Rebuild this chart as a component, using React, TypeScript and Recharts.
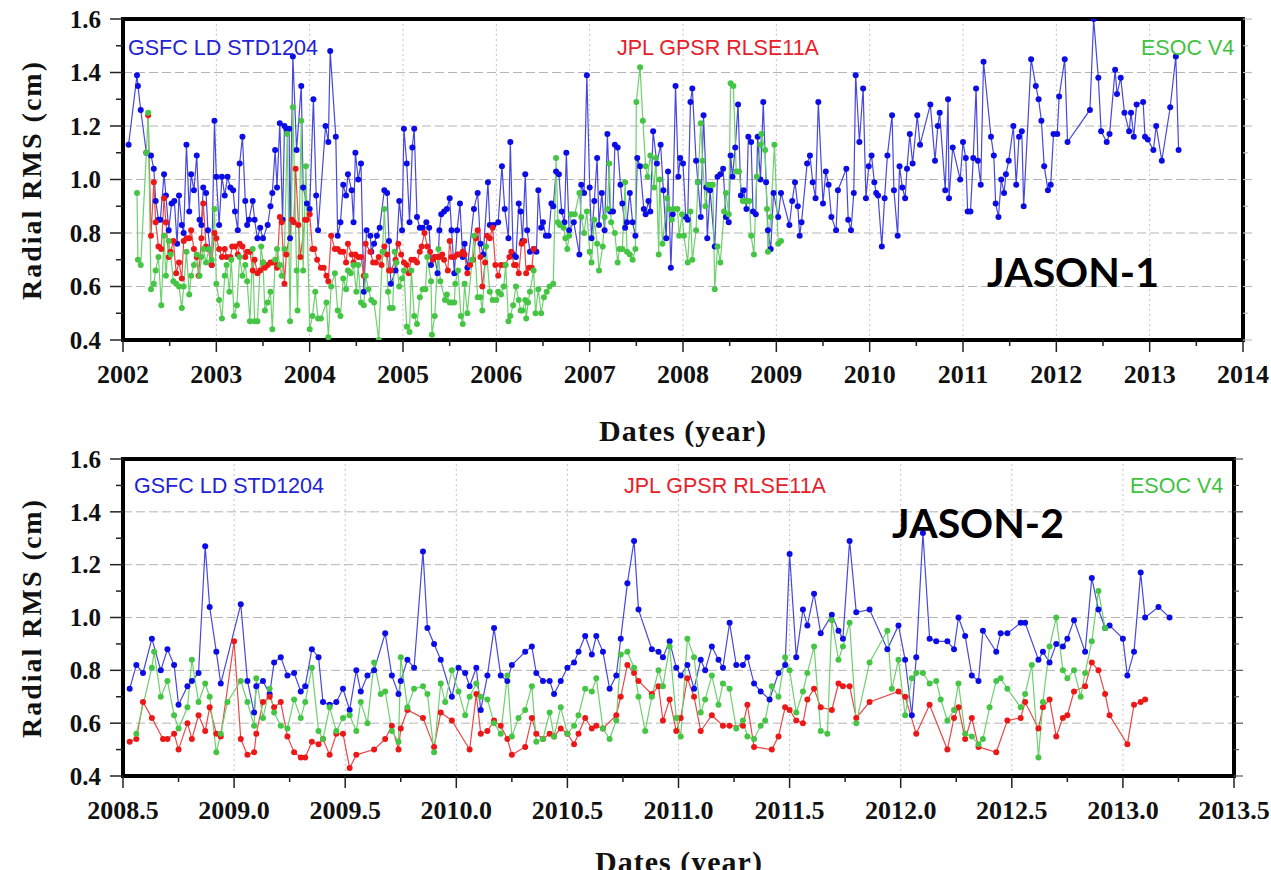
import React from 'react';
import { LineChart, Line, XAxis, YAxis, CartesianGrid, ReferenceArea } from 'recharts';

type Pt = [number, number];

// ---------- JASON-1 (top panel), [year, radial RMS cm] ----------
const j1Gsfc: Pt[] = [
  [2002.06,1.13],[2002.15,1.39],[2002.16,1.35],[2002.19,1.26],[2002.25,1.10],[2002.30,1.09],[2002.33,1.04],[2002.35,0.92],[2002.38,0.85],[2002.40,0.85],
  [2002.44,1.02],[2002.46,0.94],[2002.49,0.81],[2002.52,0.91],[2002.55,0.92],[2002.58,0.76],[2002.60,0.94],[2002.63,0.83],[2002.65,0.80],[2002.68,1.13],
  [2002.71,0.88],[2002.73,1.02],[2002.76,0.96],[2002.79,1.09],[2002.82,0.85],[2002.84,0.83],[2002.86,0.97],[2002.89,0.95],[2002.91,0.81],[2002.95,0.68],
  [2002.98,1.22],[2003.00,1.01],[2003.03,0.83],[2003.06,1.01],[2003.09,0.94],[2003.12,1.01],[2003.15,0.97],[2003.18,0.96],[2003.20,0.88],[2003.23,0.81],
  [2003.25,1.06],[2003.28,1.16],[2003.31,0.92],[2003.33,0.83],[2003.35,0.85],[2003.39,0.92],[2003.41,0.85],[2003.44,0.78],[2003.47,0.82],[2003.50,0.78],
  [2003.55,0.83],[2003.58,0.90],[2003.60,0.95],[2003.63,1.11],[2003.65,0.97],[2003.68,1.21],[2003.71,0.85],[2003.73,1.20],[2003.75,1.19],[2003.78,1.19],
  [2003.79,0.78],[2003.82,1.46],[2003.86,1.11],[2003.91,1.35],[2003.93,0.97],[2003.97,0.91],[2004.00,0.89],[2004.04,1.30],[2004.07,0.94],[2004.09,0.81],
  [2004.17,1.20],[2004.20,1.14],[2004.22,1.48],[2004.28,1.16],[2004.30,0.79],[2004.33,0.84],[2004.36,0.98],[2004.39,0.94],[2004.41,1.02],[2004.45,0.96],
  [2004.47,0.84],[2004.49,1.10],[2004.52,1.00],[2004.55,1.06],[2004.58,0.58],[2004.61,0.81],[2004.65,0.79],[2004.66,0.73],[2004.69,0.76],[2004.72,0.79],
  [2004.75,0.82],[2004.80,0.96],[2004.83,0.95],[2004.85,0.77],[2004.87,0.61],[2004.92,0.66],[2004.96,0.92],[2004.99,0.81],[2005.01,1.19],[2005.04,1.06],
  [2005.07,0.84],[2005.10,1.12],[2005.12,1.19],[2005.15,0.86],[2005.18,0.82],[2005.21,0.82],[2005.25,0.84],[2005.28,0.82],[2005.30,0.68],[2005.34,0.71],
  [2005.37,0.65],[2005.39,0.81],[2005.41,0.87],[2005.44,0.88],[2005.47,0.89],[2005.50,0.93],[2005.52,0.81],[2005.55,0.65],[2005.58,0.81],[2005.61,0.91],
  [2005.64,0.71],[2005.66,0.76],[2005.69,0.67],[2005.76,0.89],[2005.80,0.95],[2005.83,0.76],[2005.86,0.72],[2005.91,0.99],[2005.93,0.83],[2005.97,0.83],
  [2006.02,0.84],[2006.06,1.05],[2006.09,0.89],[2006.13,0.78],[2006.15,1.14],[2006.18,0.72],[2006.21,0.71],[2006.24,0.91],[2006.26,0.88],[2006.28,0.77],
  [2006.31,1.02],[2006.33,0.81],[2006.36,0.73],[2006.40,0.74],[2006.43,0.73],[2006.45,0.96],[2006.48,0.82],[2006.50,0.84],[2006.53,0.79],[2006.56,0.79],
  [2006.59,0.91],[2006.61,0.90],[2006.64,1.03],[2006.67,1.02],[2006.70,0.88],[2006.73,0.84],[2006.75,1.10],[2006.78,0.81],[2006.83,0.84],[2006.89,0.72],
  [2006.91,0.98],[2006.94,0.95],[2006.97,1.39],[2007.00,0.97],[2007.02,0.78],[2007.05,0.92],[2007.08,1.08],[2007.10,0.83],[2007.13,0.95],[2007.16,0.81],
  [2007.19,1.17],[2007.22,0.88],[2007.25,0.88],[2007.27,1.13],[2007.30,1.12],[2007.33,0.98],[2007.35,0.91],[2007.38,0.82],[2007.40,0.84],[2007.43,0.95],
  [2007.46,0.84],[2007.49,0.79],[2007.51,1.08],[2007.54,1.05],[2007.58,0.89],[2007.60,0.87],[2007.63,0.92],[2007.65,0.88],[2007.68,1.18],[2007.72,1.06],
  [2007.76,1.13],[2007.79,0.96],[2007.82,0.78],[2007.84,1.03],[2007.87,0.67],[2007.89,0.87],[2007.92,1.35],[2007.95,1.01],[2007.97,1.08],[2008.00,1.06],
  [2008.03,0.86],[2008.05,0.85],[2008.08,1.29],[2008.10,1.34],[2008.14,1.07],[2008.16,0.99],[2008.19,0.86],[2008.22,1.24],[2008.25,0.97],[2008.26,0.78],
  [2008.29,0.96],[2008.34,0.75],[2008.37,1.01],[2008.40,1.02],[2008.43,1.04],[2008.46,0.86],[2008.49,0.84],[2008.51,1.09],[2008.53,1.01],[2008.56,1.12],
  [2008.59,1.28],[2008.62,0.94],[2008.65,0.96],[2008.68,0.89],[2008.70,1.16],[2008.73,1.14],[2008.75,0.88],[2008.78,0.87],[2008.80,1.16],[2008.83,1.00],
  [2008.86,1.29],[2008.89,0.99],[2008.91,0.81],[2008.94,0.74],[2008.97,0.95],[2009.02,0.86],[2009.05,0.95],[2009.14,0.83],[2009.17,0.92],[2009.20,0.99],
  [2009.23,0.90],[2009.25,0.79],[2009.27,0.84],[2009.33,1.06],[2009.36,1.09],[2009.39,0.99],[2009.42,0.93],[2009.45,1.29],[2009.50,0.91],[2009.53,1.03],
  [2009.56,0.98],[2009.59,0.86],[2009.64,0.81],[2009.66,0.96],[2009.75,1.04],[2009.77,0.85],[2009.80,0.81],[2009.83,0.95],[2009.85,1.39],[2009.89,1.14],
  [2009.93,1.34],[2009.96,0.93],[2009.99,1.05],[2010.02,1.09],[2010.05,0.99],[2010.07,0.95],[2010.09,0.94],[2010.13,0.75],[2010.16,0.93],[2010.19,1.09],
  [2010.24,1.24],[2010.26,0.96],[2010.30,0.79],[2010.32,1.05],[2010.35,0.97],[2010.38,0.93],[2010.40,1.04],[2010.43,1.17],[2010.46,1.06],[2010.51,1.24],
  [2010.54,1.13],[2010.65,1.28],[2010.70,1.07],[2010.73,1.20],[2010.75,1.25],[2010.81,0.96],[2010.84,1.30],[2010.85,0.93],[2010.89,1.12],[2010.97,1.00],
  [2011.00,1.14],[2011.03,1.08],[2011.05,0.88],[2011.08,0.88],[2011.11,1.08],[2011.14,1.34],[2011.16,1.07],[2011.19,0.98],[2011.22,1.44],[2011.30,1.16],
  [2011.33,1.09],[2011.35,0.91],[2011.38,0.86],[2011.41,1.00],[2011.44,0.95],[2011.46,1.02],[2011.49,1.07],[2011.54,1.20],[2011.57,0.98],[2011.60,1.16],
  [2011.63,1.18],[2011.65,0.90],[2011.73,1.45],[2011.78,1.35],[2011.81,1.30],[2011.84,1.22],[2011.87,1.05],[2011.91,0.96],[2011.94,0.98],[2011.97,1.17],
  [2012.01,1.17],[2012.03,1.31],[2012.09,1.45],[2012.12,1.14],[2012.36,1.26],[2012.40,1.60],[2012.45,1.38],[2012.48,1.18],[2012.54,1.14],[2012.57,1.17],
  [2012.63,1.41],[2012.65,1.32],[2012.69,1.38],[2012.73,1.25],[2012.78,1.18],[2012.80,1.25],[2012.83,1.16],[2012.86,1.28],[2012.93,1.29],[2012.95,1.16],
  [2012.98,1.15],[2013.04,1.11],[2013.07,1.20],[2013.13,1.07],[2013.22,1.27],[2013.28,1.46],[2013.31,1.11],
];

const j1Jpl: Pt[] = [
  [2002.27,1.24],[2002.30,0.79],[2002.33,0.99],[2002.35,0.84],[2002.38,0.75],[2002.41,0.74],[2002.44,0.93],[2002.46,0.84],[2002.49,0.71],[2002.51,0.73],
  [2002.54,0.77],[2002.57,0.65],[2002.60,0.69],[2002.63,0.63],[2002.65,0.77],[2002.68,0.78],[2002.71,0.78],[2002.73,0.81],[2002.76,0.74],[2002.79,0.71],
  [2002.81,0.64],[2002.84,0.78],[2002.86,0.91],[2002.89,0.75],[2002.91,0.74],[2002.95,0.68],[2002.98,0.80],[2003.00,0.78],[2003.03,0.74],[2003.06,0.71],
  [2003.09,0.74],[2003.11,0.71],[2003.15,0.71],[2003.17,0.75],[2003.20,0.75],[2003.23,0.72],[2003.25,0.76],[2003.28,0.75],[2003.31,0.71],[2003.33,0.73],
  [2003.36,0.73],[2003.39,0.66],[2003.41,0.70],[2003.44,0.65],[2003.47,0.66],[2003.50,0.69],[2003.52,0.67],[2003.55,0.68],[2003.58,0.69],[2003.60,0.69],
  [2003.63,0.69],[2003.65,0.67],[2003.68,0.86],[2003.70,0.84],[2003.73,0.61],[2003.75,0.72],[2003.81,0.85],[2003.83,0.84],[2003.85,1.04],[2003.88,0.83],
  [2003.90,0.71],[2003.95,0.85],[2003.97,0.85],[2004.00,0.87],[2004.03,0.74],[2004.05,0.74],[2004.08,0.70],[2004.12,0.67],[2004.15,0.67],[2004.18,0.64],
  [2004.20,0.62],[2004.23,0.79],[2004.27,0.74],[2004.30,0.74],[2004.33,0.73],[2004.36,0.73],[2004.39,0.69],[2004.41,0.76],[2004.45,0.72],[2004.47,0.69],
  [2004.49,0.72],[2004.52,0.71],[2004.55,0.71],[2004.58,0.64],[2004.60,0.76],[2004.65,0.73],[2004.68,0.69],[2004.71,0.69],[2004.74,0.71],[2004.77,0.68],
  [2004.80,0.75],[2004.83,0.72],[2004.85,0.66],[2004.87,0.66],[2004.92,0.70],[2004.95,0.76],[2004.98,0.72],[2005.01,0.69],[2005.04,0.68],[2005.06,0.65],
  [2005.09,0.70],[2005.12,0.70],[2005.15,0.69],[2005.18,0.73],[2005.20,0.75],[2005.23,0.80],[2005.26,0.75],[2005.29,0.73],[2005.32,0.70],[2005.34,0.71],
  [2005.37,0.71],[2005.39,0.71],[2005.42,0.72],[2005.44,0.70],[2005.48,0.66],[2005.50,0.77],[2005.52,0.71],[2005.55,0.71],[2005.58,0.72],[2005.60,0.72],
  [2005.64,0.73],[2005.66,0.72],[2005.69,0.65],[2005.72,0.68],[2005.75,0.70],[2005.78,0.78],[2005.80,0.81],[2005.83,0.71],[2005.85,0.60],[2005.88,0.69],
  [2005.90,0.79],[2005.93,0.78],[2005.96,0.82],[2005.99,0.68],[2006.02,0.64],[2006.05,0.68],[2006.09,0.68],[2006.14,0.71],[2006.16,0.73],[2006.19,0.68],
  [2006.21,0.68],[2006.24,0.65],[2006.27,0.76],[2006.30,0.77],[2006.32,0.65],[2006.35,0.67],[2006.38,0.67],[2006.40,0.74],
];

const j1Esoc: Pt[] = [
  [2002.15,0.95],[2002.16,0.70],[2002.19,0.68],[2002.25,1.10],[2002.27,1.25],[2002.30,0.59],[2002.33,0.61],[2002.35,0.66],[2002.38,0.71],[2002.41,0.53],
  [2002.44,0.79],[2002.46,0.64],[2002.49,0.77],[2002.51,0.72],[2002.54,0.62],[2002.57,0.61],[2002.60,0.60],[2002.63,0.52],[2002.65,0.60],[2002.68,0.73],
  [2002.71,0.57],[2002.73,0.64],[2002.76,0.68],[2002.79,0.72],[2002.82,0.64],[2002.84,0.71],[2002.86,0.74],[2002.89,0.69],[2002.92,0.74],[2002.95,0.70],
  [2002.98,0.89],[2003.00,0.61],[2003.03,0.55],[2003.06,0.48],[2003.09,0.64],[2003.11,0.68],[2003.14,0.58],[2003.16,0.70],[2003.19,0.49],[2003.22,0.53],
  [2003.25,0.71],[2003.28,0.64],[2003.31,0.68],[2003.33,0.62],[2003.36,0.47],[2003.39,0.74],[2003.41,0.47],[2003.44,0.47],[2003.48,0.75],[2003.50,0.69],
  [2003.52,0.51],[2003.55,0.54],[2003.58,0.58],[2003.60,0.44],[2003.63,0.70],[2003.65,0.74],[2003.68,0.68],[2003.70,0.64],[2003.73,0.74],[2003.76,1.17],
  [2003.79,0.47],[2003.82,1.27],[2003.86,0.66],[2003.87,0.51],[2003.91,1.22],[2003.93,0.66],[2003.96,1.05],[2004.00,0.44],[2004.03,0.49],[2004.06,0.58],
  [2004.09,0.48],[2004.12,0.48],[2004.18,0.54],[2004.20,0.41],[2004.23,0.60],[2004.27,0.65],[2004.30,0.51],[2004.33,0.49],[2004.36,0.63],[2004.39,0.59],
  [2004.41,0.66],[2004.44,0.65],[2004.47,0.68],[2004.50,0.58],[2004.52,0.68],[2004.55,0.54],[2004.58,0.53],[2004.60,0.64],[2004.63,0.59],[2004.66,0.55],
  [2004.69,0.54],[2004.74,0.40],[2004.78,0.73],[2004.80,0.89],[2004.84,0.58],[2004.86,0.52],[2004.89,0.52],[2004.91,0.73],[2004.93,0.69],[2004.96,0.60],
  [2004.99,0.63],[2005.01,0.66],[2005.04,0.45],[2005.07,0.43],[2005.09,0.66],[2005.12,0.49],[2005.15,0.46],[2005.18,0.56],[2005.21,0.59],[2005.24,0.59],
  [2005.26,0.71],[2005.30,0.62],[2005.31,0.42],[2005.34,0.49],[2005.38,0.74],[2005.40,0.62],[2005.45,0.55],[2005.47,0.57],[2005.50,0.54],[2005.52,0.54],
  [2005.55,0.54],[2005.56,0.61],[2005.59,0.66],[2005.62,0.49],[2005.64,0.46],[2005.66,0.61],[2005.69,0.50],[2005.74,0.70],[2005.76,0.79],[2005.80,0.56],
  [2005.83,0.56],[2005.85,0.51],[2005.89,0.75],[2005.93,0.58],[2005.96,0.55],[2006.00,0.55],[2006.02,0.58],[2006.05,0.57],[2006.08,0.60],[2006.10,0.68],
  [2006.13,0.47],[2006.15,0.49],[2006.18,0.53],[2006.21,0.60],[2006.24,0.55],[2006.26,0.51],[2006.28,0.51],[2006.31,0.55],[2006.32,0.48],[2006.34,0.54],
  [2006.36,0.58],[2006.40,0.66],[2006.42,0.50],[2006.45,0.59],[2006.48,0.50],[2006.51,0.56],[2006.54,0.58],[2006.57,0.60],[2006.61,0.61],[2006.64,1.08],
  [2006.66,0.84],[2006.68,0.83],[2006.72,0.82],[2006.74,0.78],[2006.76,0.74],[2006.78,0.79],[2006.80,0.87],[2006.84,0.87],[2006.89,0.95],[2006.91,0.86],
  [2006.94,0.80],[2006.97,0.88],[2007.00,0.73],[2007.02,0.69],[2007.05,0.85],[2007.08,0.76],[2007.10,0.66],[2007.14,0.75],[2007.16,0.86],[2007.19,0.89],
  [2007.21,1.06],[2007.23,0.84],[2007.27,0.80],[2007.30,0.69],[2007.32,0.74],[2007.35,0.74],[2007.38,0.99],[2007.40,0.73],[2007.43,0.72],[2007.46,0.70],
  [2007.49,0.74],[2007.50,1.29],[2007.54,1.42],[2007.57,1.22],[2007.60,1.05],[2007.62,1.01],[2007.65,1.09],[2007.69,0.97],[2007.71,1.08],[2007.74,0.72],
  [2007.75,1.00],[2007.78,0.76],[2007.83,0.93],[2007.85,0.89],[2007.88,0.85],[2007.90,0.89],[2007.94,0.89],[2007.96,0.79],[2007.99,0.87],[2008.01,0.79],
  [2008.05,0.69],[2008.08,0.88],[2008.10,0.70],[2008.14,0.81],[2008.16,0.99],[2008.19,1.21],[2008.21,1.07],[2008.24,0.90],[2008.27,0.98],[2008.30,0.98],
  [2008.32,0.98],[2008.34,0.59],[2008.37,0.75],[2008.40,0.69],[2008.44,0.88],[2008.46,0.95],[2008.49,0.87],[2008.51,1.36],[2008.54,1.35],[2008.57,1.03],
  [2008.60,1.03],[2008.64,0.92],[2008.66,0.92],[2008.68,0.92],[2008.71,0.92],[2008.73,0.79],[2008.76,0.72],[2008.79,1.01],[2008.83,1.13],[2008.84,1.17],
  [2008.88,1.11],[2008.90,0.89],[2008.91,0.73],[2008.94,0.86],[2008.98,1.13],[2009.02,0.76],[2009.05,0.77],
];

// ---------- JASON-2 (bottom panel) ----------
const j2Gsfc: Pt[] = [
  [2008.53,0.73],[2008.56,0.82],[2008.59,0.79],[2008.63,0.92],[2008.67,0.80],[2008.70,0.88],[2008.73,0.82],[2008.75,0.67],[2008.79,0.74],[2008.81,0.76],
  [2008.84,0.79],[2008.87,1.27],[2008.89,1.04],[2008.92,0.87],[2008.94,0.75],[2009.03,1.05],[2009.06,0.76],[2009.09,0.64],[2009.10,0.74],[2009.13,0.76],
  [2009.16,0.71],[2009.18,0.83],[2009.21,0.85],[2009.24,0.78],[2009.27,0.79],[2009.30,0.72],[2009.32,0.74],[2009.35,0.88],[2009.38,0.85],[2009.40,0.68],
  [2009.43,0.67],[2009.46,0.68],[2009.49,0.73],[2009.52,0.65],[2009.55,0.80],[2009.57,0.72],[2009.60,0.78],[2009.63,0.80],[2009.68,0.94],[2009.71,0.78],
  [2009.74,0.71],[2009.75,0.76],[2009.78,0.84],[2009.81,0.81],[2009.85,1.25],[2009.87,0.96],[2009.90,0.90],[2009.93,0.84],[2009.98,0.70],[2010.01,0.81],
  [2010.04,0.79],[2010.06,0.74],[2010.09,0.81],[2010.11,0.65],[2010.14,0.78],[2010.17,0.96],[2010.20,0.78],[2010.23,0.76],[2010.25,0.82],[2010.31,0.87],
  [2010.34,0.89],[2010.36,0.79],[2010.39,0.76],[2010.42,0.76],[2010.44,0.71],[2010.47,0.76],[2010.50,0.81],[2010.53,0.83],[2010.55,0.87],[2010.58,0.93],
  [2010.61,0.86],[2010.63,0.93],[2010.66,0.87],[2010.69,0.73],[2010.72,0.78],[2010.74,0.92],[2010.77,1.13],[2010.80,1.29],[2010.82,1.03],[2010.88,0.88],
  [2010.91,0.87],[2010.93,0.85],[2010.96,0.91],[2010.99,0.81],[2011.01,0.78],[2011.04,0.82],[2011.07,0.73],[2011.10,0.84],[2011.12,0.80],[2011.15,0.89],
  [2011.18,0.84],[2011.20,0.81],[2011.23,0.98],[2011.26,0.82],[2011.29,0.82],[2011.31,0.85],[2011.34,0.75],[2011.37,0.72],[2011.41,0.69],[2011.45,0.79],
  [2011.48,0.82],[2011.50,1.24],[2011.53,0.85],[2011.56,1.03],[2011.58,0.97],[2011.61,1.09],[2011.64,0.94],[2011.69,1.01],[2011.72,0.95],[2011.74,0.92],
  [2011.77,1.29],[2011.80,1.02],[2011.86,1.03],[2011.94,0.88],[2011.99,0.97],[2012.02,0.84],[2012.05,0.63],[2012.07,0.85],[2012.10,1.32],[2012.13,0.92],
  [2012.16,0.91],[2012.21,0.91],[2012.24,0.88],[2012.26,1.00],[2012.29,0.93],[2012.32,0.78],[2012.35,0.76],[2012.37,0.95],[2012.43,0.87],[2012.45,0.94],
  [2012.48,0.94],[2012.54,0.98],[2012.56,0.98],[2012.62,0.84],[2012.64,0.87],[2012.67,0.83],[2012.70,0.90],[2012.73,0.89],[2012.75,0.92],[2012.78,0.99],
  [2012.83,0.87],[2012.86,1.15],[2012.89,1.03],[2012.92,0.96],[2012.94,0.97],[2013.00,0.92],[2013.02,0.78],[2013.05,0.87],[2013.08,1.17],[2013.10,1.00],
  [2013.16,1.04],[2013.21,1.00],
];

const j2Jpl: Pt[] = [
  [2008.53,0.53],[2008.56,0.54],[2008.59,0.68],[2008.63,0.62],[2008.68,0.54],[2008.70,0.54],[2008.73,0.56],[2008.75,0.50],[2008.79,0.60],[2008.81,0.54],
  [2008.84,0.63],[2008.87,0.57],[2008.89,0.66],[2008.92,0.56],[2008.94,0.55],[2009.00,0.91],[2009.03,0.54],[2009.06,0.48],[2009.09,0.49],[2009.10,0.56],
  [2009.13,0.68],[2009.16,0.70],[2009.18,0.66],[2009.21,0.68],[2009.24,0.55],[2009.27,0.49],[2009.30,0.47],[2009.32,0.47],[2009.35,0.53],[2009.38,0.52],
  [2009.40,0.54],[2009.43,0.48],[2009.46,0.56],[2009.49,0.56],[2009.52,0.43],[2009.55,0.48],[2009.63,0.50],[2009.68,0.54],[2009.71,0.59],[2009.74,0.50],
  [2009.75,0.58],[2009.78,0.65],[2009.85,0.62],[2009.90,0.51],[2009.93,0.64],[2009.98,0.61],[2010.06,0.50],[2010.09,0.71],[2010.11,0.56],[2010.14,0.57],
  [2010.17,0.61],[2010.20,0.59],[2010.23,0.54],[2010.25,0.48],[2010.31,0.51],[2010.34,0.62],[2010.36,0.56],[2010.39,0.54],[2010.42,0.56],[2010.44,0.55],
  [2010.47,0.58],[2010.50,0.56],[2010.53,0.52],[2010.55,0.56],[2010.58,0.62],[2010.61,0.58],[2010.63,0.59],[2010.66,0.58],[2010.72,0.63],[2010.74,0.70],
  [2010.77,0.82],[2010.80,0.79],[2010.82,0.76],[2010.88,0.71],[2010.91,0.74],[2010.93,0.61],[2010.96,0.69],[2010.99,0.57],[2011.01,0.62],[2011.04,0.77],
  [2011.07,0.70],[2011.10,0.57],[2011.15,0.63],[2011.20,0.59],[2011.23,0.59],[2011.29,0.59],[2011.31,0.67],[2011.34,0.51],[2011.42,0.50],[2011.45,0.55],
  [2011.48,0.66],[2011.50,0.65],[2011.53,0.61],[2011.56,0.60],[2011.58,0.69],[2011.61,0.73],[2011.64,0.66],[2011.69,0.65],[2011.72,0.75],[2011.74,0.74],
  [2011.77,0.74],[2011.80,0.62],[2011.86,0.68],[2011.99,0.72],[2012.02,0.70],[2012.07,0.56],[2012.13,0.67],[2012.21,0.50],[2012.24,0.62],[2012.26,0.66],
  [2012.29,0.54],[2012.32,0.62],[2012.35,0.51],[2012.43,0.49],[2012.48,0.61],[2012.54,0.62],[2012.56,0.68],[2012.62,0.58],[2012.64,0.66],[2012.67,0.69],
  [2012.70,0.55],[2012.73,0.62],[2012.75,0.63],[2012.78,0.72],[2012.83,0.74],[2012.86,0.83],[2012.89,0.80],[2012.92,0.71],[2012.94,0.63],[2013.02,0.52],
  [2013.05,0.67],[2013.08,0.68],[2013.10,0.69],
];

const j2Esoc: Pt[] = [
  [2008.56,0.56],[2008.63,0.81],[2008.64,0.87],[2008.67,0.70],[2008.70,0.76],[2008.73,0.63],[2008.75,0.58],[2008.79,0.66],[2008.81,0.84],[2008.84,0.68],
  [2008.87,0.75],[2008.89,0.70],[2008.92,0.49],[2008.94,0.56],[2008.97,0.68],[2009.03,0.76],[2009.06,0.68],[2009.09,0.59],[2009.10,0.77],[2009.13,0.62],
  [2009.16,0.73],[2009.18,0.64],[2009.21,0.59],[2009.24,0.58],[2009.27,0.69],[2009.30,0.62],[2009.32,0.68],[2009.35,0.81],[2009.38,0.57],[2009.40,0.54],
  [2009.43,0.66],[2009.46,0.57],[2009.49,0.62],[2009.52,0.63],[2009.55,0.57],[2009.57,0.68],[2009.60,0.60],[2009.63,0.83],[2009.66,0.71],[2009.68,0.72],
  [2009.71,0.57],[2009.74,0.53],[2009.75,0.85],[2009.78,0.66],[2009.81,0.73],[2009.85,0.74],[2009.87,0.71],[2009.90,0.49],[2009.93,0.75],[2009.95,0.68],
  [2009.98,0.80],[2010.01,0.72],[2010.04,0.63],[2010.06,0.70],[2010.09,0.75],[2010.11,0.70],[2010.14,0.69],[2010.17,0.60],[2010.20,0.56],[2010.23,0.78],
  [2010.25,0.55],[2010.28,0.62],[2010.31,0.65],[2010.34,0.74],[2010.36,0.53],[2010.39,0.54],[2010.42,0.64],[2010.44,0.55],[2010.47,0.66],[2010.50,0.56],
  [2010.53,0.59],[2010.55,0.63],[2010.58,0.73],[2010.61,0.72],[2010.63,0.77],[2010.66,0.58],[2010.69,0.54],[2010.72,0.61],[2010.74,0.86],[2010.77,0.87],
  [2010.80,0.81],[2010.82,0.70],[2010.85,0.57],[2010.88,0.70],[2010.91,0.80],[2010.93,0.74],[2010.96,0.89],[2010.99,0.62],[2011.01,0.55],[2011.04,0.92],
  [2011.07,0.85],[2011.10,0.64],[2011.12,0.69],[2011.15,0.78],[2011.18,0.67],[2011.20,0.75],[2011.23,0.73],[2011.26,0.58],[2011.29,0.61],[2011.31,0.55],
  [2011.34,0.54],[2011.37,0.59],[2011.39,0.61],[2011.42,0.74],[2011.45,0.70],[2011.48,0.85],[2011.50,0.80],[2011.53,0.64],[2011.56,0.72],[2011.58,0.79],
  [2011.61,0.89],[2011.64,0.57],[2011.67,0.56],[2011.69,0.99],[2011.72,0.84],[2011.74,0.89],[2011.77,0.98],[2011.80,0.60],[2011.86,0.83],[2011.94,0.95],
  [2011.96,0.73],[2011.99,0.84],[2012.02,0.63],[2012.05,0.77],[2012.07,0.79],[2012.10,0.79],[2012.13,0.75],[2012.16,0.76],[2012.18,0.69],[2012.21,0.61],
  [2012.24,0.65],[2012.26,0.75],[2012.29,0.56],[2012.32,0.55],[2012.35,0.52],[2012.37,0.54],[2012.40,0.66],[2012.43,0.76],[2012.45,0.77],[2012.48,0.73],
  [2012.54,0.66],[2012.56,0.71],[2012.59,0.82],[2012.62,0.47],[2012.64,0.68],[2012.67,0.89],[2012.70,1.00],[2012.73,0.80],[2012.75,0.77],[2012.78,0.80],
  [2012.81,0.70],[2012.83,0.79],[2012.86,0.91],[2012.89,1.10],[2012.92,0.96],
];

// ---------- axes ----------
const rmsTicks = [0.4, 0.5, 0.6, 0.7, 0.8, 0.9, 1.0, 1.1, 1.2, 1.3, 1.4, 1.5, 1.6];
const rmsGrid = [0.6, 0.8, 1.0, 1.2, 1.4];
const j1YearTicks = [2002, 2002.5, 2003, 2003.5, 2004, 2004.5, 2005, 2005.5, 2006, 2006.5, 2007, 2007.5, 2008,
  2008.5, 2009, 2009.5, 2010, 2010.5, 2011, 2011.5, 2012, 2012.5, 2013, 2013.5, 2014];
const j1GridYears = [2003, 2004, 2005, 2006, 2007, 2008, 2009, 2010, 2011, 2012, 2013];
const j2YearTicks = [2008.5, 2008.75, 2009, 2009.25, 2009.5, 2009.75, 2010, 2010.25, 2010.5, 2010.75, 2011,
  2011.25, 2011.5, 2011.75, 2012, 2012.25, 2012.5, 2012.75, 2013, 2013.25, 2013.5];
const j2GridYears = [2009, 2009.5, 2010, 2010.5, 2011, 2011.5, 2012, 2012.5, 2013];

const BLUE = { line: '#4848dc', dot: '#0c0ce6', text: '#2222d6' };
const RED = { line: '#e84848', dot: '#ec1818', text: '#e8202a' };
const GREEN = { line: '#6fd06f', dot: '#44c644', text: '#3fc23f' };

const serif = "'Liberation Serif', 'Times New Roman', serif";
const sans = "'Liberation Sans', Arial, sans-serif";

const toXY = (pts: Pt[]) => pts.map(([x, y]) => ({ x, y }));

const isMajorRms = (v: number) => Math.round(v * 10) % 2 === 0;

const LeftTick = (p: any) => {
  const v = p.payload.value;
  const major = isMajorRms(v);
  return (
    <g>
      <line x1={p.x - (major ? 13 : 7)} x2={p.x} y1={p.y} y2={p.y} stroke="#222" strokeWidth={1.5} />
      {major && (
        <text x={p.x - 22} y={p.y} dy="0.35em" textAnchor="end" fontFamily={serif} fontWeight="bold" fontSize={25} fill="#111">
          {v.toFixed(1)}
        </text>
      )}
    </g>
  );
};

const makeRightTick = (color: string) => (p: any) => {
  const major = isMajorRms(p.payload.value);
  return <line x1={p.x} x2={p.x + (major ? 9 : 5)} y1={p.y} y2={p.y} stroke={color} strokeWidth={1.2} />;
};

const TopTick = (p: any) => <line x1={p.x} x2={p.x} y1={p.y - 7} y2={p.y} stroke="#222" strokeWidth={1.5} />;

const makeBottomTick = (isMajor: (v: number) => boolean, fmt: (v: number) => string) => (p: any) => {
  const v = p.payload.value;
  const major = isMajor(v);
  return (
    <g>
      <line x1={p.x} x2={p.x} y1={p.y} y2={p.y + (major ? 12 : 6)} stroke="#222" strokeWidth={1.5} />
      {major && (
        <text x={p.x} y={p.y + 43} textAnchor="middle" fontFamily={serif} fontWeight="bold" fontSize={26} fill="#111">
          {fmt(v)}
        </text>
      )}
    </g>
  );
};

interface PanelProps {
  height: number;
  bottomAxis: number;
  rightAxis: number;
  domain: [number, number];
  ticks: number[];
  gridYears: number[];
  rightTickColor: string;
  isMajor: (v: number) => boolean;
  fmt: (v: number) => string;
  gsfc: Pt[];
  jpl: Pt[];
  esoc: Pt[];
}

const Panel = (props: PanelProps) => {
  const { domain } = props;
  const series = [
    { key: 'gsfc', pts: props.gsfc, c: BLUE },
    { key: 'jpl', pts: props.jpl, c: RED },
    { key: 'esoc', pts: props.esoc, c: GREEN },
  ];
  return (
    <LineChart width={1271} height={props.height} margin={{ top: 0, right: 0, bottom: 0, left: 0 }}>
      <XAxis
        type="number"
        dataKey="x"
        domain={domain}
        ticks={props.ticks}
        interval={0}
        height={props.bottomAxis}
        axisLine={false}
        tickLine={false}
        tickSize={0}
        tickMargin={0}
        tick={makeBottomTick(props.isMajor, props.fmt)}
        allowDataOverflow
      />
      <XAxis
        xAxisId="top"
        orientation="top"
        type="number"
        domain={domain}
        ticks={props.ticks}
        interval={0}
        height={19}
        axisLine={false}
        tickLine={false}
        tickSize={0}
        tickMargin={0}
        tick={TopTick}
        allowDataOverflow
      />
      <YAxis
        type="number"
        domain={[0.4, 1.6]}
        ticks={rmsTicks}
        interval={0}
        width={123}
        axisLine={false}
        tickLine={false}
        tickSize={0}
        tickMargin={0}
        tick={LeftTick}
        allowDataOverflow
      />
      <YAxis
        yAxisId="right"
        orientation="right"
        type="number"
        domain={[0.4, 1.6]}
        ticks={rmsTicks}
        interval={0}
        width={props.rightAxis}
        axisLine={false}
        tickLine={false}
        tickSize={0}
        tickMargin={0}
        tick={makeRightTick(props.rightTickColor)}
        allowDataOverflow
      />
      <CartesianGrid vertical={false} horizontalValues={rmsGrid} stroke="#b4b4b4" strokeDasharray="9 4" />
      <CartesianGrid horizontal={false} verticalValues={props.gridYears} stroke="#c4c4c4" strokeDasharray="2 3" />
      {series.map((s) => (
        <Line
          key={s.key}
          data={toXY(s.pts)}
          dataKey="y"
          type="linear"
          stroke={s.c.line}
          strokeWidth={1.2}
          dot={{ r: 3, fill: s.c.dot, stroke: 'none' }}
          activeDot={false}
          isAnimationActive={false}
        />
      ))}
      <ReferenceArea x1={domain[0]} x2={domain[1]} y1={0.4} y2={1.6} fill="none" fillOpacity={0} stroke="#000" strokeWidth={4} ifOverflow="visible" />
    </LineChart>
  );
};

export default function App() {
  const label = { fontFamily: sans, fontSize: 21.5 };
  const big = { fontFamily: "Lato, 'Open Sans', sans-serif", fontWeight: 'bold' as const, fontSize: 41, fill: '#000' };
  const title = { fontFamily: serif, fontWeight: 'bold' as const, fill: '#111' };
  return (
    <div style={{ position: 'fixed', left: 0, top: 0, width: 1271, height: 870, overflow: 'hidden', background: '#fff' }}>
      <div style={{ position: 'absolute', left: 0, top: 0 }}>
        <Panel
          height={452}
          bottomAxis={112}
          rightAxis={28}
          domain={[2002, 2014]}
          ticks={j1YearTicks}
          gridYears={j1GridYears}
          rightTickColor="#bbbbbb"
          isMajor={(v) => Number.isInteger(v)}
          fmt={(v) => String(v)}
          gsfc={j1Gsfc}
          jpl={j1Jpl}
          esoc={j1Esoc}
        />
      </div>
      <div style={{ position: 'absolute', left: 0, top: 440 }}>
        <Panel
          height={440}
          bottomAxis={104}
          rightAxis={37}
          domain={[2008.5, 2013.5]}
          ticks={j2YearTicks}
          gridYears={j2GridYears}
          rightTickColor="#555555"
          isMajor={(v) => Number.isInteger(v * 2)}
          fmt={(v) => v.toFixed(1)}
          gsfc={j2Gsfc}
          jpl={j2Jpl}
          esoc={j2Esoc}
        />
      </div>
      <svg width={1271} height={880} style={{ position: 'absolute', left: 0, top: 0, pointerEvents: 'none' }}>
        <text x={128} y={55} fill={BLUE.text} style={label}>GSFC LD STD1204</text>
        <text x={617} y={55} fill={RED.text} style={label}>JPL GPSR RLSE11A</text>
        <text x={1141} y={55} fill={GREEN.text} style={label}>ESOC V4</text>
        <text x={987} y={287} style={big}>JASON-1</text>

        <text x={134} y={493} fill={BLUE.text} style={label}>GSFC LD STD1204</text>
        <text x={624} y={493} fill={RED.text} style={label}>JPL GPSR RLSE11A</text>
        <text x={1130} y={493} fill={GREEN.text} style={label}>ESOC V4</text>
        <text x={892} y={538} style={big}>JASON-2</text>

        <text x={31} y={180} transform="rotate(-90 31 180)" textAnchor="middle" dominantBaseline="central" fontSize={28} letterSpacing={2} style={title}>
          Radial RMS (cm)
        </text>
        <text x={31} y={618} transform="rotate(-90 31 618)" textAnchor="middle" dominantBaseline="central" fontSize={28} letterSpacing={2} style={title}>
          Radial RMS (cm)
        </text>
        <text x={683} y={441} textAnchor="middle" fontSize={30} letterSpacing={1} style={title}>Dates (year)</text>
        <text x={679} y={872} textAnchor="middle" fontSize={30} letterSpacing={1} style={title}>Dates (year)</text>
      </svg>
    </div>
  );
}
